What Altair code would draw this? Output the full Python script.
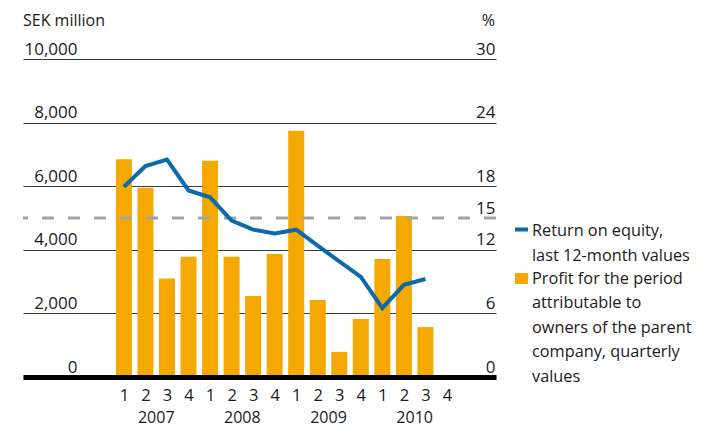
import altair as alt
import pandas as pd

# ---- data ----
quarter_labels = ["1", "2", "3", "4"]
years = ["2007", "2008", "2009", "2010"]
profit = [6850, 5950, 3100, 3780, 6800, 3780, 2550, 3870, 7740, 2420, 790, 1820, 3710, 5060, 1570]
roe = [17.95, 19.9, 20.5, 17.6, 16.95, 14.75, 13.9, 13.55, 13.9, 12.4, 10.9, 9.45, 6.5, 8.7, 9.25]
left_ticks = [0, 2000, 4000, 6000, 8000, 10000]
right_ticks = [0, 6, 12, 15, 18, 24, 30]
target_roe = [15]
left_title = ["SEK million"]
right_title = ["%"]
legend_roe = ["Return on equity,", "last 12-month values"]
legend_profit = ["Profit for the period", "attributable to", "owners of the parent",
                 "company, quarterly", "values"]

FONT = "Open Sans"
FS = 17
FS_T = 16
FS_LEG = 16.3
TXT = "#1a1a1a"
ORANGE = "#f5a800"
BLUE = "#0a6aad"
W, H = 473, 318

df = pd.DataFrame({"idx": list(range(len(profit))), "profit": profit, "roe": roe})
yr = pd.DataFrame({"year": years, "pos": [i * 4 + 1.5 for i in range(len(years))]})
tgt = pd.DataFrame({"roe": target_roe})

xs = alt.Scale(domain=[-4.4545, 17.045], nice=False, zero=False)
q_expr = "[" + ",".join("'%s'" % q for q in quarter_labels) + "][datum.value % 4]"

x_axis = alt.Axis(values=list(range(16)), labelExpr=q_expr, grid=False, ticks=False, tickSize=0,
                  domainColor="black", domainWidth=5, labelPadding=23, labelBaseline="alphabetic",
                  labelFontSize=16.5, labelColor=TXT, title=None, zindex=1, labelFont=FONT,
                  labelOverlap=False, labelFlush=False)

left_axis = alt.Axis(values=left_ticks, format=",d", grid=True, gridColor="#3a3a3a", gridWidth=1,
                     domain=False, ticks=False, tickSize=0, labelAlign="right",
                     labelBaseline="alphabetic", labelPadding=-54, labelOffset=-5,
                     labelFontSize=FS, labelColor=TXT, labelFont=FONT, labelOverlap=False,
                     title=None)

right_axis = alt.Axis(values=right_ticks, grid=False, domain=False, ticks=False, tickSize=0,
                      orient="right", labelAlign="right", labelBaseline="alphabetic",
                      labelPadding=-1, labelOffset=-5, labelFontSize=FS, labelColor=TXT,
                      labelFont=FONT, labelOverlap=False, title=None)

ys_left = alt.Scale(domain=[0, 10000], nice=False)
ys_right = alt.Scale(domain=[0, 30], nice=False)

bars = alt.Chart(df).mark_bar(color=ORANGE, size=16).encode(
    x=alt.X("idx:Q", scale=xs, axis=x_axis),
    y=alt.Y("profit:Q", scale=ys_left, axis=left_axis),
)

years_text = alt.Chart(yr).mark_text(font=FONT, fontSize=16, color=TXT, baseline="alphabetic",
                                     align="center").encode(
    x=alt.X("pos:Q", scale=xs, axis=x_axis), y=alt.value(H + 46), text="year:N")

left_layer = alt.layer(bars, years_text)

rule = alt.Chart(tgt).mark_rule(color="#a3a3a3", strokeWidth=3, strokeDash=[12, 14]).encode(
    y=alt.Y("roe:Q", scale=ys_right, axis=right_axis))

line = alt.Chart(df).mark_line(color=BLUE, strokeWidth=4, strokeJoin="miter").encode(
    x=alt.X("idx:Q", scale=xs, axis=x_axis),
    y=alt.Y("roe:Q", scale=ys_right, axis=right_axis),
)

right_layer = alt.layer(rule, line)

t_left = alt.Chart(pd.DataFrame({"t": left_title})).mark_text(
    font=FONT, fontSize=FS_T, color=TXT, align="left", baseline="alphabetic").encode(
    x=alt.value(0), y=alt.value(-33.5), text="t")
t_right = alt.Chart(pd.DataFrame({"t": right_title})).mark_text(
    font=FONT, fontSize=FS_T, color=TXT, align="right", baseline="alphabetic").encode(
    x=alt.value(W - 1), y=alt.value(-33.5), text="t")

leg_df1 = pd.DataFrame({"t": [legend_roe]})
leg_df2 = pd.DataFrame({"t": [legend_profit]})

sw1 = alt.Chart(leg_df1).mark_rect(color=BLUE).encode(
    x=alt.value(492), x2=alt.value(505), y=alt.value(168.5), y2=alt.value(172.5))
sw2 = alt.Chart(leg_df2).mark_rect(color=ORANGE).encode(
    x=alt.value(492), x2=alt.value(505), y=alt.value(214), y2=alt.value(225))
lt1 = alt.Chart(leg_df1).mark_text(font=FONT, fontSize=FS_LEG, color=TXT, align="left",
                                   baseline="alphabetic", lineHeight=24.5).encode(
    x=alt.value(509), y=alt.value(177), text="t")
lt2 = alt.Chart(leg_df2).mark_text(font=FONT, fontSize=FS_LEG, color=TXT, align="left",
                                   baseline="alphabetic", lineHeight=24.5).encode(
    x=alt.value(509), y=alt.value(224.5), text="t")

chart = alt.layer(left_layer, right_layer, t_left, t_right, sw1, sw2, lt1, lt2).resolve_scale(
    y="independent"
).properties(
    width=W, height=H,
    padding={"left": 15, "top": 51, "right": 203, "bottom": 52},
    autosize=alt.AutoSizeParams(type="none"),
    background="white",
).configure_view(stroke=None)

chart.save("out.html", embed_options={"renderer": "svg", "actions": False})
